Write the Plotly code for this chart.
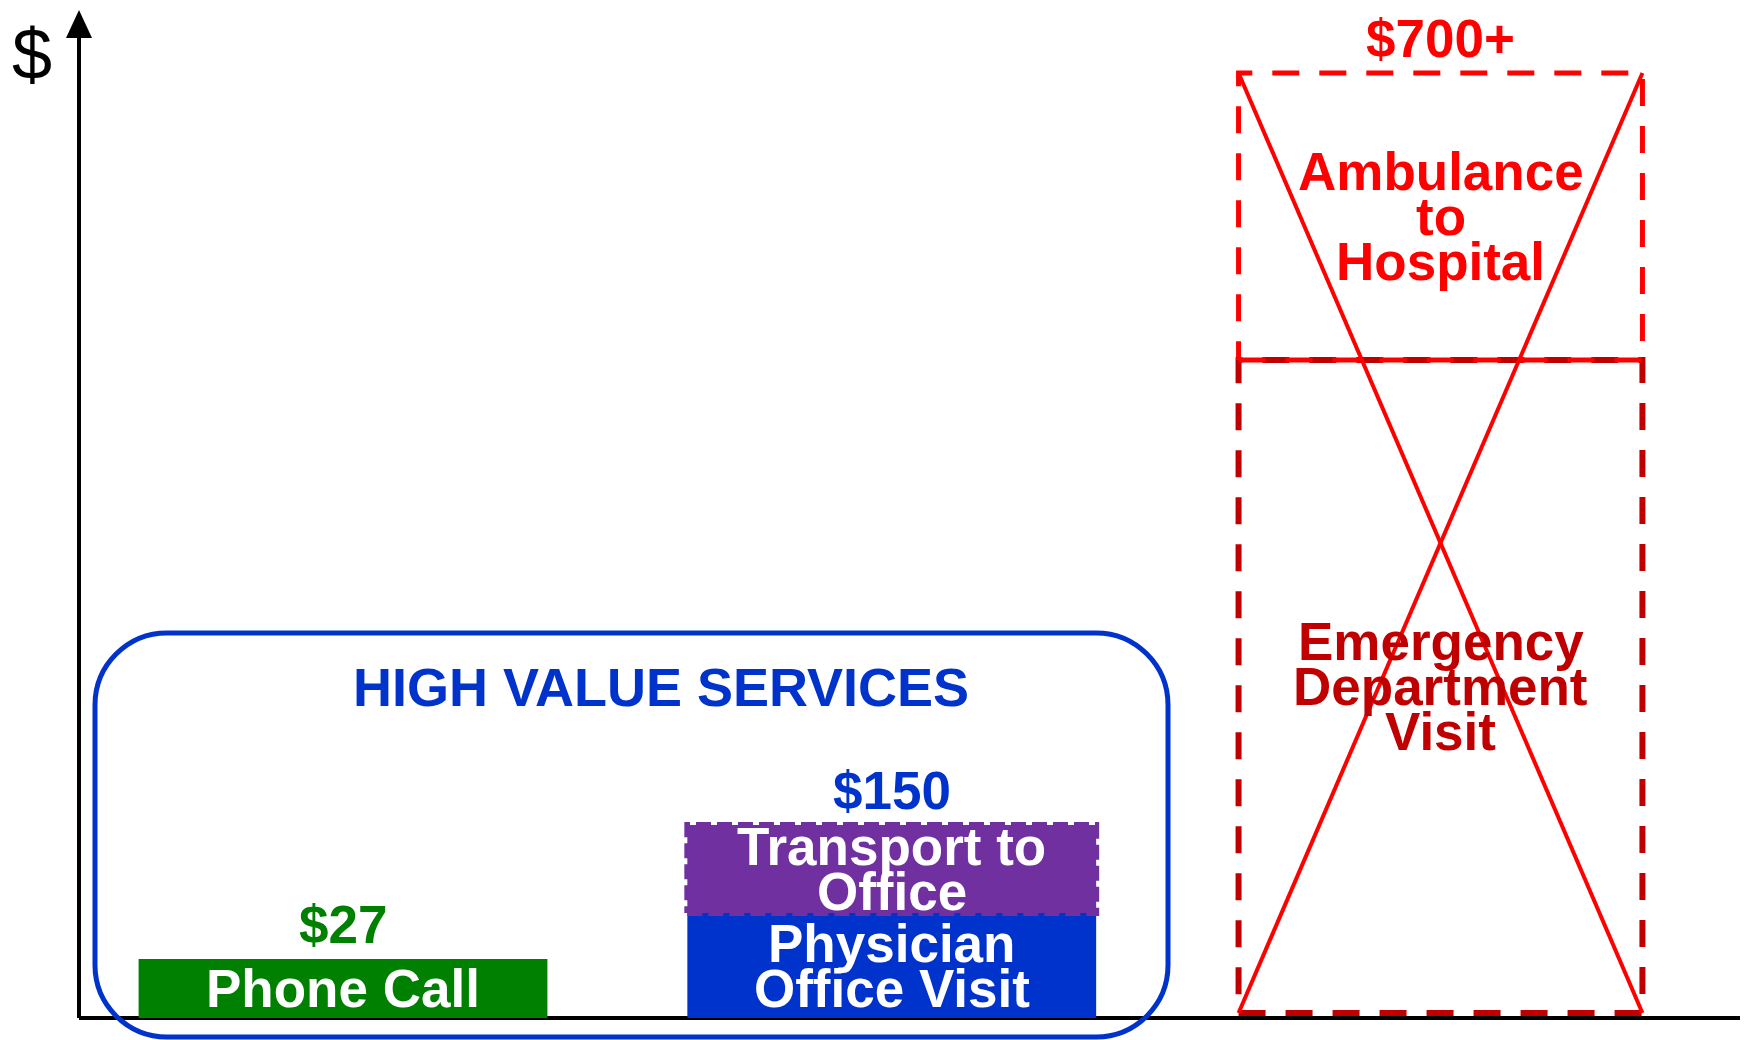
import plotly.graph_objects as go

# Data
cost_columns = ["Phone Call", "Office Visit", "Hospital"]
price_labels = ["$27", "$150", "$700+"]
price_colors = ["#008000", "#0033CC", "#FF0000"]

segments = [
    "Phone Call",
    "Physician<br>Office Visit",
    "Transport to<br>Office",
    "Emergency<br>Department<br>Visit",
    "Ambulance<br>to<br>Hospital",
]
segment_column = ["Phone Call", "Office Visit", "Office Visit", "Hospital", "Hospital"]
segment_base = [0, 0, 105, 5, 658]
segment_top = [59, 105, 193, 658, 945]

# Styles
FONT = "Liberation Sans, Arial, sans-serif"
FS = 53
W, H = 1740, 1032       # page adds an 8px body margin
OFF = 8
BAR_W = 0.745
BOX_W = 0.736
LINE_STEP = 45
fill_colors = ["#008000", "#0033CC", "#7030A0", None, None]
outline = [None, None, ("#7030A0", "15px,6px", 6), ("#C00000", "27px,20px", 6), ("#FF0000", "27px,20px", 5)]
text_colors = ["white", "white", "white", "#C00000", "#FF0000"]


def px(x, y):
    # screen pixel -> paper coordinates, for decorations only
    return (x - OFF) / W, 1 - (y - OFF) / H


col_idx = [cost_columns.index(c) for c in segment_column]

fig = go.Figure()

# filled bars
filled = [i for i, c in enumerate(fill_colors) if c]
fig.add_trace(go.Bar(
    x=[col_idx[i] for i in filled],
    y=[segment_top[i] - segment_base[i] for i in filled],
    base=[segment_base[i] for i in filled],
    width=BAR_W,
    marker=dict(color=[fill_colors[i] for i in filled], line=dict(width=0)),
    hoverinfo="skip",
))

# dashed outlines
for i, o in enumerate(outline):
    if not o:
        continue
    w = BAR_W if fill_colors[i] else BOX_W
    x0, x1 = col_idx[i] - w / 2, col_idx[i] + w / 2
    b, t = segment_base[i], segment_top[i]
    fig.add_trace(go.Scatter(
        x=[x0, x1, x1, x0, x0], y=[b, b, t, t, b],
        mode="lines", line=dict(color=o[0], width=o[2], dash=o[1]),
        hoverinfo="skip",
    ))

# crossed-out hospital column
h = cost_columns.index("Hospital")
low, high = segment_base[3], segment_top[4]
for xs in ([h - BOX_W / 2, h + BOX_W / 2], [h + BOX_W / 2, h - BOX_W / 2]):
    fig.add_trace(go.Scatter(
        x=xs, y=[high, low], mode="lines",
        line=dict(color="#FF0000", width=4), hoverinfo="skip",
    ))

annotations = []
# segment labels, one annotation per line for tight spacing
for i, label in enumerate(segments):
    lines = label.split("<br>")
    mid = (segment_base[i] + segment_top[i]) / 2
    for k, line in enumerate(lines):
        annotations.append(dict(
            x=col_idx[i], y=mid + ((len(lines) - 1) / 2 - k) * LINE_STEP,
            text=line, showarrow=False, xanchor="center", yanchor="middle",
            font=dict(family=FONT, size=FS, color=text_colors[i], weight="bold"),
        ))

# price labels above each column
for j, col in enumerate(cost_columns):
    top = max(segment_top[i] for i in range(len(segments)) if segment_column[i] == col)
    annotations.append(dict(
        x=j, y=top + 35, text=price_labels[j], showarrow=False,
        xanchor="center", yanchor="middle",
        font=dict(family=FONT, size=FS, color=price_colors[j], weight="bold"),
    ))

hx, hy = px(661, 687)
annotations.append(dict(
    x=hx, y=hy, xref="paper", yref="paper", text="HIGH VALUE SERVICES",
    showarrow=False, xanchor="center", yanchor="middle",
    font=dict(family=FONT, size=54, color="#0033CC", weight="bold"),
))
dx, dy = px(32, 54)
annotations.append(dict(
    x=dx, y=dy, xref="paper", yref="paper", text="$", showarrow=False,
    xanchor="center", yanchor="middle",
    font=dict(family=FONT, size=72, color="black"),
))

# axes with arrow
shapes = []
ax0, ay0 = px(79, 1018)
ax1, ay1 = px(79, 30)
bx1, _ = px(W + OFF, 1018)
shapes.append(dict(type="line", xref="paper", yref="paper", x0=ax0, y0=ay0, x1=ax1, y1=ay1,
                   line=dict(color="black", width=4), layer="below"))
shapes.append(dict(type="line", xref="paper", yref="paper", x0=ax0, y0=ay0, x1=bx1, y1=ay0,
                   line=dict(color="black", width=4), layer="below"))
t = px(79, 10)
l = px(66, 38)
r = px(92, 38)
shapes.append(dict(type="path", xref="paper", yref="paper",
                   path=f"M {t[0]},{t[1]} L {r[0]},{r[1]} L {l[0]},{l[1]} Z",
                   fillcolor="black", line=dict(width=0)))

# rounded box around high value services
L, R, T, B, RAD = 95, 1168, 633, 1037, 72
k = 0.5523 * RAD
pts = [
    ("M", [(L + RAD, T)]),
    ("L", [(R - RAD, T)]),
    ("C", [(R - RAD + k, T), (R, T + RAD - k), (R, T + RAD)]),
    ("L", [(R, B - RAD)]),
    ("C", [(R, B - RAD + k), (R - RAD + k, B), (R - RAD, B)]),
    ("L", [(L + RAD, B)]),
    ("C", [(L + RAD - k, B), (L, B - RAD + k), (L, B - RAD)]),
    ("L", [(L, T + RAD)]),
    ("C", [(L, T + RAD - k), (L + RAD - k, T), (L + RAD, T)]),
]
path = ""
for cmd, ps in pts:
    path += cmd + " " + " ".join("{:.5f},{:.5f}".format(*px(a, b)) for a, b in ps) + " "
shapes.append(dict(type="path", xref="paper", yref="paper", path=path + "Z",
                   line=dict(color="#0033CC", width=5)))

# column centres on screen: 343 + 548.75 * index ; y = 1018 - screen y
x_lo = (OFF - 343) / 548.75
x_hi = (W + OFF - 343) / 548.75
fig.update_layout(
    width=W, height=H,
    margin=dict(l=0, r=0, t=0, b=0),
    paper_bgcolor="white", plot_bgcolor="white",
    showlegend=False, barmode="overlay",
    xaxis=dict(visible=False, range=[x_lo, x_hi], fixedrange=True),
    yaxis=dict(visible=False, range=[1018 - (H + OFF), 1018 - OFF], fixedrange=True),
    annotations=annotations, shapes=shapes,
)

fig.write_html("out.html", config={"displayModeBar": False})
